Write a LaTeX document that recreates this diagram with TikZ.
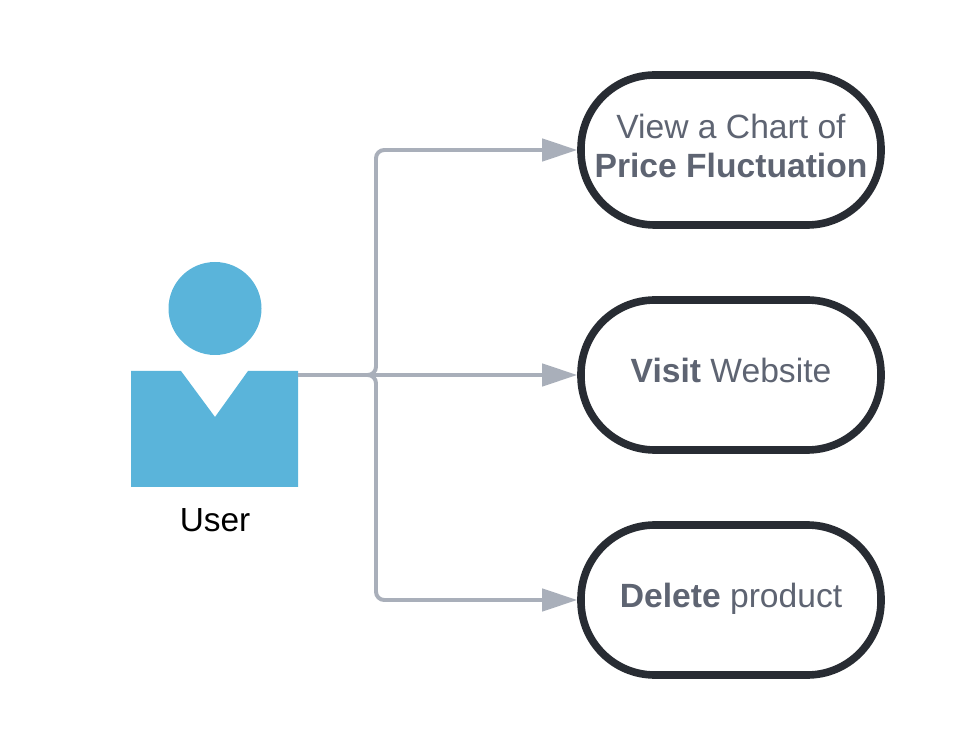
\documentclass[tikz,border=0pt]{standalone}
\usepackage{fontspec}
\setmainfont{Liberation Sans}
\usetikzlibrary{arrows.meta}
\definecolor{userblue}{HTML}{5AB4DA}
\definecolor{linkgray}{HTML}{A9AFBA}
\definecolor{boxdark}{HTML}{282C33}
\definecolor{labgray}{HTML}{5E6472}
\tikzset{>={Triangle[length=30pt,width=19pt]}}
\tikzset{
  usecase/.style={draw=boxdark, line width=6.5pt, fill=white, rounded corners=63pt, minimum width=9cm, minimum height=4.5cm},
  caselab/.style={text=labgray, align=center, inner sep=0pt, font=\fontsize{28.7}{34}\selectfont},
  link/.style={->, draw=linkgray, line width=3.4pt, rounded corners=7pt}
}

\begin{document}
\begin{tikzpicture}[x=0.03cm, y=0.03cm]
\useasboundingbox (0,0) rectangle (956,750);
\fill[userblue] (215,441.5) circle (46.5);
\fill[userblue] (131,379) -- (181,379) -- (215,333) -- (248,379) -- (298,379) -- (298,263) -- (131,263) -- cycle;
\node[font=\fontsize{28.5}{32}\selectfont] (userlab) at (215,230) {User};
\coordinate (userport) at (298,375);
\coordinate (bus) at (376,375);
\node[usecase] (view) at (731,600) {};
\node[usecase] (visit) at (731,375) {};
\node[usecase] (delete) at (731,150) {};
\node[caselab] (viewlab) at (view) {\strut View a Chart of\\\strut\textbf{Price Fluctuation}};
\node[caselab] (visitlab) at (visit) {\strut\textbf{Visit} Website};
\node[caselab] (deletelab) at (delete) {\strut\textbf{Delete} product};
\draw[link] (userport) -- (bus) |- (view.west);
\draw[link] (userport) -- (visit.west);
\draw[link] (userport) -- (bus) |- (delete.west);
\end{tikzpicture}
\end{document}
